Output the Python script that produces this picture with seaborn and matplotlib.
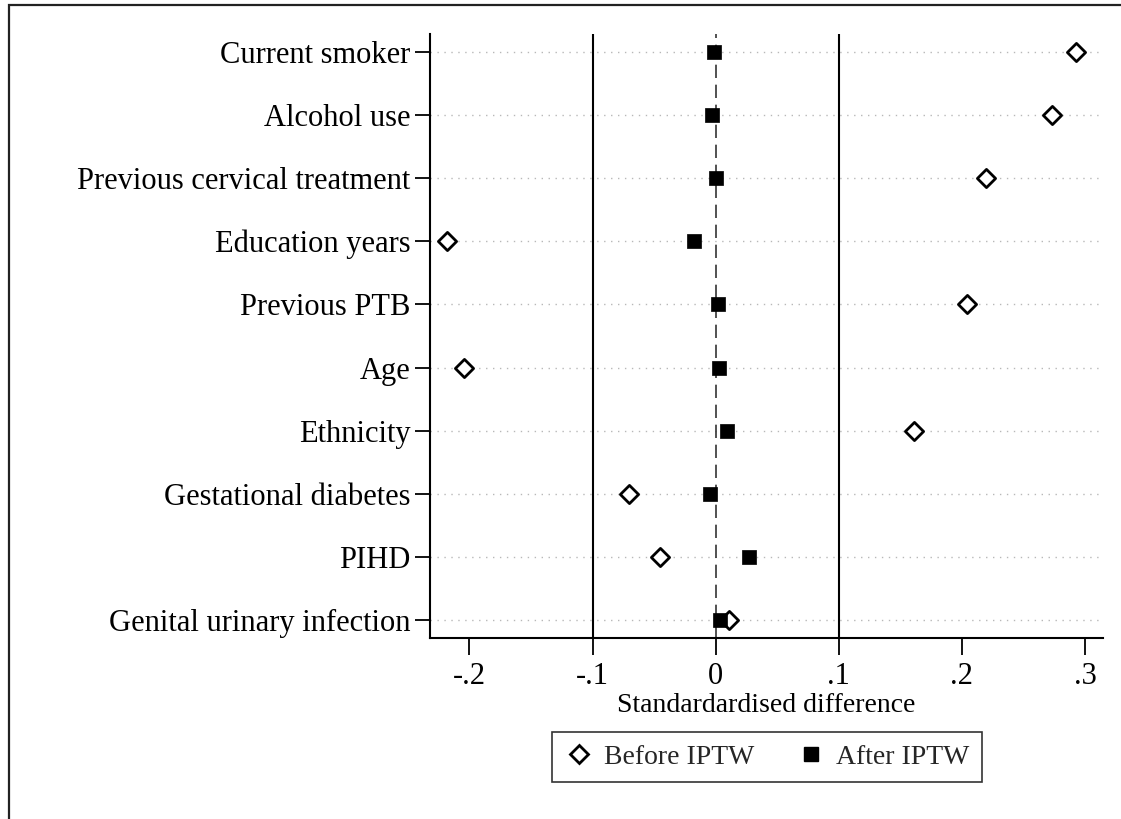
import matplotlib
matplotlib.use("Agg")
import matplotlib.pyplot as plt
import seaborn as sns
import pandas as pd
from matplotlib.lines import Line2D
from matplotlib.patches import Rectangle

# ---- data ----
covariates = ["Current smoker", "Alcohol use", "Previous cervical treatment",
              "Education years", "Previous PTB", "Age", "Ethnicity",
              "Gestational diabetes", "PIHD", "Genital urinary infection"]
before_iptw = [0.293, 0.273, 0.2195, -0.218, 0.2045, -0.204, 0.1615,
               -0.0705, -0.0455, 0.011]
after_iptw = [-0.0015, -0.003, 0.0, -0.0175, 0.002, 0.0025, 0.009,
              -0.0045, 0.027, 0.0035]
x_ticks = [-0.2, -0.1, 0, 0.1, 0.2, 0.3]
x_tick_labels = ["-.2", "-.1", "0", ".1", ".2", ".3"]
ref_lines = [-0.1, 0.1]
legend_labels = ["Before IPTW", "After IPTW"]
x_label = "Standardardised difference"

sns.set_theme(style="white")
plt.rcParams["font.family"] = ["Liberation Serif", "DejaVu Serif"]

W, H = 1121, 819
fig = plt.figure(figsize=(W / 100, H / 100), dpi=100)
ax = fig.add_axes([430 / W, 1 - 638 / H, (1103 - 430) / W, (638 - 34) / H])

df_before = pd.DataFrame({"covariate": covariates, "value": before_iptw})
df_after = pd.DataFrame({"covariate": covariates, "value": after_iptw})

n = len(covariates)

# grid + reference lines
ax.yaxis.grid(True, linestyle=(0, (1, 4)), color="#b8b8b8", lw=1.0, zorder=0)
ax.xaxis.grid(False)
for r in ref_lines:
    ax.axvline(r, color="black", lw=1.5, zorder=1)
ax.axvline(0, color="#333333", lw=1.2, ls=(0, (8, 4)), zorder=1)

sns.scatterplot(data=df_before, x="value", y="covariate", marker="D", s=86,
                facecolor="white", edgecolor="black", linewidth=2.0,
                ax=ax, zorder=3, legend=False)
sns.scatterplot(data=df_after, x="value", y="covariate", marker="s", s=100,
                color="black", edgecolor="black", linewidth=0.5,
                ax=ax, zorder=4, legend=False)
ax.set_ylim(n - 1 + 0.28, -0.28)
ax.set_xlim(-0.232, 0.3146)

ax.set_xticks(x_ticks)
ax.set_xticklabels(x_tick_labels)
ax.tick_params(axis="both", which="major", direction="out", length=12,
               width=1.3, color="black", labelsize=22, labelcolor="black",
               left=True, bottom=True, pad=5)
ax.tick_params(axis="y", length=11, pad=3)
ax.set_ylabel("")
ax.set_xlabel(x_label, fontsize=20, color="black", labelpad=2)

for s in ["top", "right"]:
    ax.spines[s].set_visible(False)
for s in ["left", "bottom"]:
    ax.spines[s].set_color("black")
    ax.spines[s].set_linewidth(1.5)

handles = [
    Line2D([], [], marker="D", ls="none", markersize=9.3, markerfacecolor="white",
           markeredgecolor="black", markeredgewidth=2.0),
    Line2D([], [], marker="s", ls="none", markersize=10, markerfacecolor="black",
           markeredgecolor="black"),
]
leg = fig.legend(handles, legend_labels, loc="center",
                 bbox_to_anchor=(767 / W, 1 - 757 / H), ncol=2, fontsize=20,
                 frameon=True, fancybox=False, edgecolor="black",
                 handletextpad=0.4, columnspacing=1.55, handlelength=1.0,
                 borderpad=0.45, borderaxespad=0)
leg.get_frame().set_linewidth(1.2)

# outer frame of the graph region (cropped screenshot)
fig.patches.append(Rectangle((8.5 / W, -0.1), 1.2, 1.1 - 5 / H,
                             transform=fig.transFigure, fill=False,
                             edgecolor="#222222", lw=1.6))

fig.savefig("out.png", dpi=100, facecolor="white")
